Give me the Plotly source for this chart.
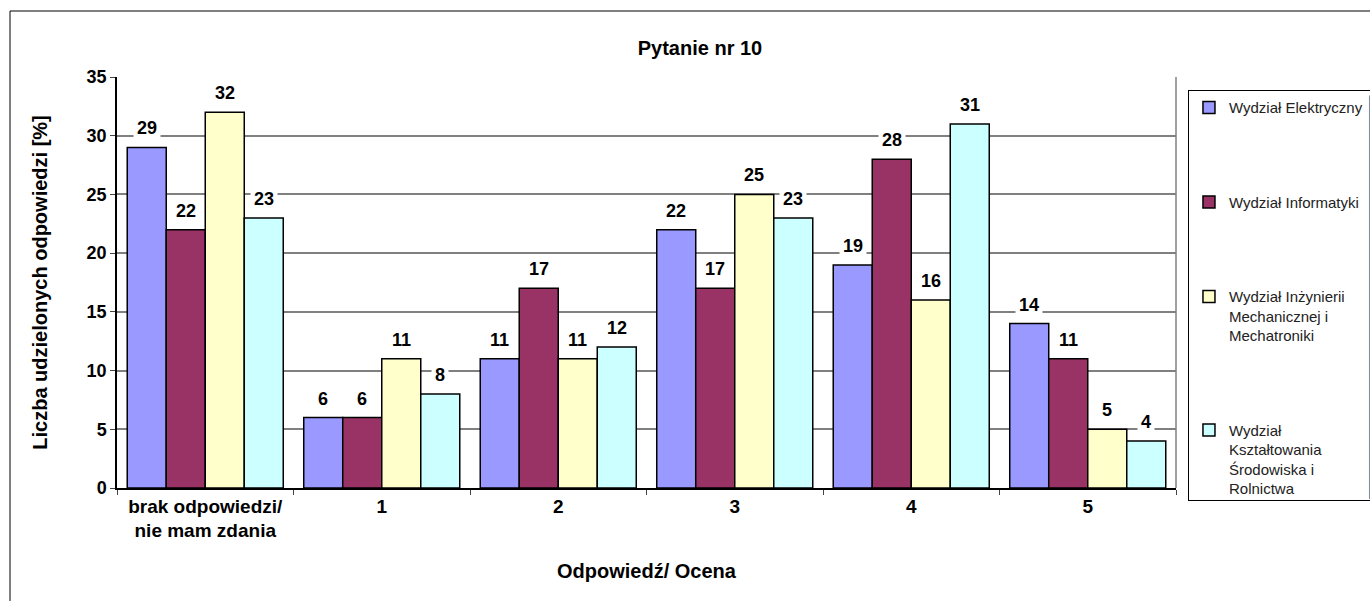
import plotly.graph_objects as go

kategorie = ["brak odpowiedzi/<br>nie mam zdania", "1", "2", "3", "4", "5"]
wydzialy = [
    "Wydział Elektryczny",
    "Wydział Informatyki",
    "Wydział Inżynierii<br>Mechanicznej i<br>Mechatroniki",
    "Wydział<br>Kształtowania<br>Środowiska i<br>Rolnictwa",
]
elektryczny = [29, 6, 11, 22, 19, 14]
informatyki = [22, 6, 17, 17, 28, 11]
inzynierii = [32, 11, 11, 25, 16, 5]
ksztaltowania = [23, 8, 12, 23, 31, 4]
kolory = ["#9999FF", "#993366", "#FFFFCC", "#CCFFFF"]

serie = [elektryczny, informatyki, inzynierii, ksztaltowania]
bargap = 0.116
szer = (1 - bargap) / len(serie)

fig = go.Figure()
for i, (nazwa, wartosci) in enumerate(zip(wydzialy, serie)):
    fig.add_trace(go.Bar(
        x=kategorie, y=wartosci, name=nazwa,
        marker=dict(color=kolory[i], line=dict(color="black", width=1.5)),
        legendgroup=str(i),
    ))

# etykiety danych z białym tłem (jak w Excelu)
adnotacje = []
for j, wartosci in enumerate(serie):
    for k, v in enumerate(wartosci):
        adnotacje.append(dict(
            x=k + (j - 1.5) * szer, y=v, xref="x", yref="y",
            text=f"<b>{v}</b>", showarrow=False, yanchor="bottom", yshift=5,
            bgcolor="white", borderpad=3,
            font=dict(family="Arial", size=18, color="black"),
        ))

fig.update_layout(
    width=1370, height=601,
    margin=dict(l=117, r=194, t=77, b=113, autoexpand=False),
    paper_bgcolor="white", plot_bgcolor="white",
    barmode="group", bargap=bargap, bargroupgap=0,
    font=dict(family="Arial", size=18, color="black"),
    title=dict(text="<b>Pytanie nr 10</b>", x=(700 - 117) / 1059, xref="paper",
               xanchor="center", y=1 - 48 / 601, yanchor="middle",
               font=dict(size=20)),
    showlegend=True,
    legend=dict(
        x=1.0113, y=0.968, xanchor="left", yanchor="top",
        bordercolor="black", borderwidth=1, bgcolor="white",
        font=dict(family="Arial", size=15, color="#222222"),
        traceorder="grouped", tracegroupgap=72, itemwidth=30, maxheight=1,
        valign="top",
    ),
    annotations=adnotacje,
    shapes=[
        dict(type="rect", xref="paper", yref="paper",
             x0=(10 - 117) / 1059, x1=1.3, y0=-0.3, y1=(488 - 11) / 411,
             line=dict(color="black", width=1), layer="below"),
        dict(type="line", xref="paper", yref="paper", x0=1, x1=1, y0=0, y1=1,
             line=dict(color="#808080", width=1.5)),
    ],
)

fig.update_xaxes(
    title=dict(text="<b>Odpowiedź/ Ocena</b>", standoff=24, font=dict(size=20)),
    tickfont=dict(size=19), ticks="outside", tickson="boundaries", ticklen=5,
    showline=True, linecolor="black", linewidth=1.5,
    tickprefix="<b>", ticksuffix="</b>",
)
fig.update_yaxes(
    title=dict(text="<b>Liczba udzielonych odpowiedzi [%]</b>", standoff=34, font=dict(size=20)),
    range=[0, 35], dtick=5, tickfont=dict(size=18),
    ticks="outside", ticklen=5, showline=True, linecolor="black", linewidth=1.5,
    showgrid=True, gridcolor="#808080", gridwidth=1.5,
    tickprefix="<b>", ticksuffix="</b>", zeroline=False,
)

fig.write_html("out.html", config={"displayModeBar": False},
               post_script="document.body.style.margin='0';")
